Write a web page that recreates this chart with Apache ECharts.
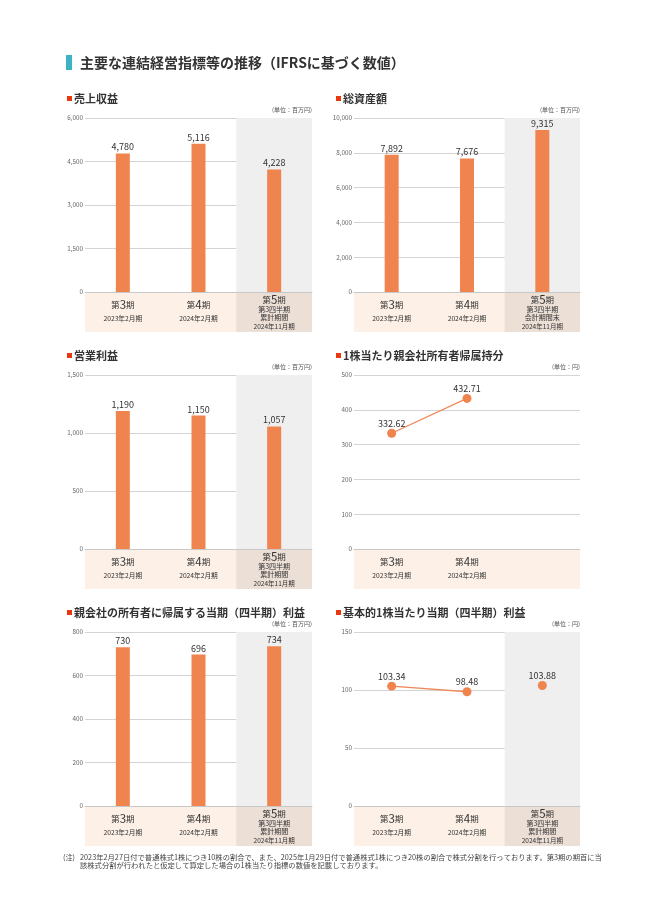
<!DOCTYPE html>
<html><head><meta charset="utf-8">
<script src="https://cdn.jsdelivr.net/npm/echarts@6/dist/echarts.min.js"></script>
<style>html,body{margin:0;padding:0;background:#fff;}#c{width:648px;height:915px;}</style>
</head><body><div id="c"></div>
<script>
// ---- data ----
const periods = ['第3期', '第4期', '第5期'];
const periodNumbers = ['3', '4', '5'];
const periodDates = ['2023年2月期', '2024年2月期', '2024年11月期'];
const q3CumulativeNote = ['第3四半期', '累計期間'];
const q3EndNote = ['第3四半期', '会計期間末'];

const revenue = [4780, 5116, 4228];
const totalAssets = [7892, 7676, 9315];
const operatingProfit = [1190, 1150, 1057];
const equityPerShare = [332.62, 432.71, null];
const netProfit = [730, 696, 734];
const epsAnnual = [103.34, 98.48, null];
const epsQ3 = [null, null, 103.88];

const revenueTicks = [0, 1500, 3000, 4500, 6000];
const assetsTicks = [0, 2000, 4000, 6000, 8000, 10000];
const opProfitTicks = [0, 500, 1000, 1500];
const equityTicks = [0, 100, 200, 300, 400, 500];
const netProfitTicks = [0, 200, 400, 600, 800];
const epsTicks = [0, 50, 100, 150];

const mainTitle = '主要な連結経営指標等の推移（IFRSに基づく数値）';
const footnoteMark = '(注)';
const footnoteLines = [
  '2023年2月27日付で普通株式1株につき10株の割合で、また、2025年1月29日付で普通株式1株につき20株の割合で株式分割を行っております。第3期の期首に当',
  '該株式分割が行われたと仮定して算定した場合の1株当たり指標の数値を記載しております。'
];

// ---- layout ----
const FONT = '"Noto Sans CJK JP", "Noto Sans", sans-serif';
const colLeft = [85, 354];
const colWidth = [227, 226];
const rowTop = [118, 375, 632];
const plotH = 174;
const bandH = 40;
const ORANGE = '#f0844e';

const panels = [
  {title: '売上収益', unit: '(単位：百万円)', col: 0, row: 0, type: 'bar', data: [revenue], ticks: revenueTicks, note: q3CumulativeNote, third: true},
  {title: '総資産額', unit: '(単位：百万円)', col: 1, row: 0, type: 'bar', data: [totalAssets], ticks: assetsTicks, note: q3EndNote, third: true},
  {title: '営業利益', unit: '(単位：百万円)', col: 0, row: 1, type: 'bar', data: [operatingProfit], ticks: opProfitTicks, note: q3CumulativeNote, third: true},
  {title: '1株当たり親会社所有者帰属持分', unit: '(単位：円)', col: 1, row: 1, type: 'line', data: [equityPerShare], ticks: equityTicks, note: null, third: false},
  {title: '親会社の所有者に帰属する当期（四半期）利益', unit: '(単位：百万円)', col: 0, row: 2, type: 'bar', data: [netProfit], ticks: netProfitTicks, note: q3CumulativeNote, third: true},
  {title: '基本的1株当たり当期（四半期）利益', unit: '(単位：円)', col: 1, row: 2, type: 'line', data: [epsAnnual, epsQ3], ticks: epsTicks, note: q3CumulativeNote, third: true}
];

const fmtInt = v => Number(v).toLocaleString('en-US');
const fmtDec = v => Number(v).toFixed(2);

const grids = [], xAxes = [], yAxes = [], series = [], graphics = [];

graphics.push({type: 'rect', shape: {x: 66, y: 55, width: 6, height: 15}, style: {fill: '#3bb3c4'}});
graphics.push({type: 'text', x: 80, y: 62.5, style: {text: mainTitle, font: 'bold 14px ' + FONT, fill: '#333', verticalAlign: 'middle'}});
graphics.push({type: 'text', x: 63, y: 857, style: {text: footnoteMark, font: '7.2px ' + FONT, fill: '#444', verticalAlign: 'middle'}});
footnoteLines.forEach((t, i) => {
  graphics.push({type: 'text', x: 80, y: 857 + i * 8.5, style: {text: t, font: '7.3px ' + FONT, fill: '#444', verticalAlign: 'middle'}});
});

panels.forEach((p, i) => {
  const left = colLeft[p.col], width = colWidth[p.col], top = rowTop[p.row];
  const bottom = top + plotH;
  grids.push({left: left, top: top, width: width, height: plotH, containLabel: false});

  graphics.push({type: 'rect', z: -1, shape: {x: left, y: bottom, width: width, height: bandH}, style: {fill: '#fdf0e6'}});
  if (p.third) {
    graphics.push({type: 'rect', z: -1, shape: {x: left + width * 2 / 3, y: bottom, width: width / 3, height: bandH}, style: {fill: '#ecdfd6'}});
  }
  const tx = left - 18;
  graphics.push({type: 'rect', shape: {x: tx, y: top - 22, width: 5, height: 5}, style: {fill: '#e8380d'}});
  graphics.push({type: 'text', x: tx + 7, y: top - 19.5, style: {text: p.title, font: 'bold 11px ' + FONT, fill: '#333', verticalAlign: 'middle'}});
  graphics.push({type: 'text', x: left + width, y: top - 8, style: {text: p.unit, font: '6px ' + FONT, fill: '#555', align: 'right', verticalAlign: 'middle'}});

  const note = p.note;
  xAxes.push({
    type: 'category', gridIndex: i, data: periods, boundaryGap: true,
    axisTick: {show: false},
    axisLine: {show: true, lineStyle: {color: '#c8c8c8', width: 1}},
    splitArea: {show: true, areaStyle: {color: p.third ? ['rgba(0,0,0,0)', 'rgba(0,0,0,0)', '#efefef'] : ['rgba(0,0,0,0)']}},
    axisLabel: {
      interval: 0, margin: 3, color: '#333', fontFamily: FONT,
      formatter: (v, idx) => {
        if (idx < 2) return '{a|第}{n|' + periodNumbers[idx] + '}{a|期}\n{d|' + periodDates[idx] + '}';
        if (!note) return '';
        return '{a2|第}{n2|' + periodNumbers[idx] + '}{a2|期}\n{s|' + note[0] + '}\n{s|' + note[1] + '}\n{d2|' + periodDates[idx] + '}';
      },
      rich: {
        a: {fontSize: 8.5, lineHeight: 20, color: '#333', fontFamily: FONT},
        n: {fontSize: 11.5, lineHeight: 20, color: '#333', fontFamily: FONT},
        d: {fontSize: 6.7, lineHeight: 6, color: '#333', fontFamily: FONT},
        a2: {fontSize: 8.5, lineHeight: 10, color: '#333', fontFamily: FONT},
        n2: {fontSize: 11.5, lineHeight: 10, color: '#333', fontFamily: FONT},
        s: {fontSize: 7, lineHeight: 8, color: '#333', fontFamily: FONT},
        d2: {fontSize: 6.5, lineHeight: 12, color: '#333', fontFamily: FONT}
      }
    }
  });
  const t = p.ticks;
  yAxes.push({
    type: 'value', gridIndex: i, min: t[0], max: t[t.length - 1], interval: t[1] - t[0],
    axisLine: {show: false}, axisTick: {show: false},
    splitLine: {show: true, lineStyle: {color: '#d4d4d4', width: 1}},
    axisLabel: {fontSize: 6.3, color: '#666', margin: 2, fontFamily: FONT, formatter: v => fmtInt(v)}
  });

  p.data.forEach(d => {
    if (p.type === 'bar') {
      series.push({
        type: 'bar', xAxisIndex: i, yAxisIndex: i, data: d, barWidth: 14,
        itemStyle: {color: ORANGE},
        label: {show: true, position: 'top', distance: 2, fontSize: 9, color: '#333', fontFamily: FONT, formatter: o => fmtInt(o.value)}
      });
    } else {
      series.push({
        type: 'line', xAxisIndex: i, yAxisIndex: i, data: d, connectNulls: false,
        symbol: 'circle', symbolSize: 9,
        lineStyle: {color: '#f0885a', width: 1.3},
        itemStyle: {color: ORANGE},
        label: {show: true, position: 'top', distance: 1, fontSize: 9, color: '#333', fontFamily: FONT, formatter: o => fmtDec(o.value)}
      });
    }
  });
});

const chart = echarts.init(document.getElementById('c'), null, {renderer: 'canvas'});
chart.setOption({
  animation: false,
  textStyle: {fontFamily: FONT},
  grid: grids, xAxis: xAxes, yAxis: yAxes, series: series,
  graphic: graphics
});
</script></body></html>
